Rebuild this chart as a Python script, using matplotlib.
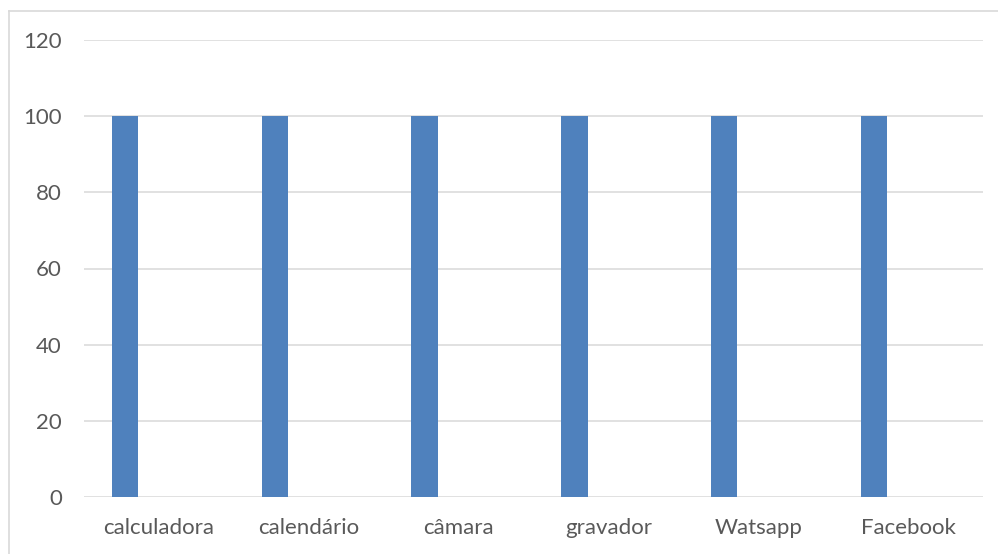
import matplotlib
matplotlib.use("Agg")
import matplotlib.pyplot as plt
from matplotlib.lines import Line2D
import numpy as np

categories = ["calculadora", "calendário", "câmara", "gravador", "Watsapp", "Facebook"]
values = [100, 100, 100, 100, 100, 100]
y_ticks = [0, 20, 40, 60, 80, 100, 120]

plt.rcParams["font.family"] = ["Lato", "DejaVu Sans"]

W, H = 998, 554
fig = plt.figure(figsize=(W / 100, H / 100), dpi=100)
ax = fig.add_axes([84 / W, (H - 497) / H, (983 - 84) / W, (497 - 40) / H])

x = np.arange(len(categories))
bar_w = 0.175
offset = -0.227
ax.bar(x + offset, values, width=bar_w, color="#4f81bd", zorder=3)

ax.set_xlim(-0.5, len(categories) - 0.5)
ax.set_ylim(0, 120)
ax.set_yticks(y_ticks)
ax.set_xticks(x)
ax.set_xticklabels(categories)
ax.tick_params(axis="both", length=0, labelsize=16, colors="#595959")
ax.tick_params(axis="y", pad=16)
ax.tick_params(axis="x", pad=15)
ax.grid(axis="y", color="#d9d9d9", linewidth=1.1, zorder=0)
for s in ax.spines.values():
    s.set_visible(False)

# chart area outline (left and top edges)
fig.add_artist(Line2D([8.5 / W, 8.5 / W], [0, 1 - 10.5 / H], transform=fig.transFigure,
                      color="#d9d9d9", linewidth=1.2))
fig.add_artist(Line2D([8.5 / W, 1], [1 - 10.5 / H, 1 - 10.5 / H], transform=fig.transFigure,
                      color="#d9d9d9", linewidth=1.2))

fig.savefig("out.png", dpi=100)
